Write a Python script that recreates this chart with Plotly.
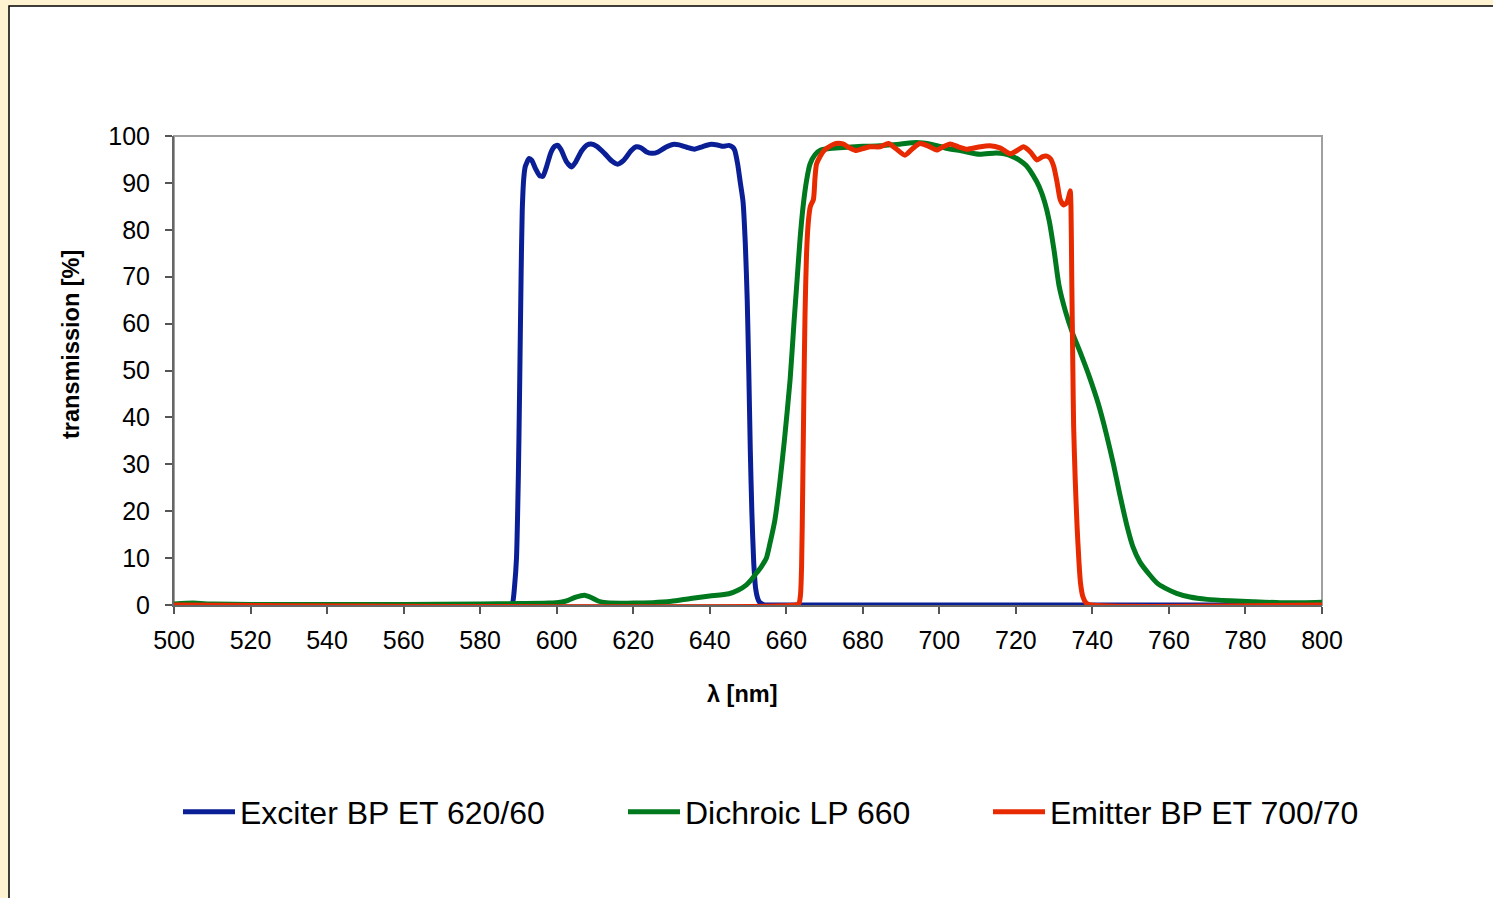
import plotly.graph_objects as go

# ---------------- data ----------------
exciter_name = "Exciter BP ET 620/60"
exciter_wl = [500, 585, 588, 588.5, 589, 589.5, 590, 590.3, 590.7, 591, 591.4, 591.8, 592.8, 593.5,
              594.5, 595.5, 596.4, 597.3, 598.5, 599.5, 600.3, 601.2, 602.5, 603.9, 605, 606.5,
              608, 609, 610.5, 612.5, 614.5, 615.9, 617.5, 619.5, 620.8, 622, 623.5, 625, 626.5,
              628.5, 630.4, 632, 634, 636, 638, 640, 642, 643.5, 645, 646, 646.5, 647.3, 648,
              648.7, 649.3, 649.8, 650.2, 650.6, 651, 651.5, 652, 652.5, 653, 654, 655, 800]
exciter_t = [0, 0, 0, 0.5, 4, 10, 28, 45, 70, 84, 91, 93.5, 95.2, 94.8,
             93, 91.6, 91.4, 93.3, 96.5, 97.8, 98, 97, 94.6, 93.4, 94.5, 96.8,
             98.1, 98.3, 97.8, 96.3, 94.6, 94, 94.8, 96.9, 97.7, 97.5, 96.6, 96.3, 96.6,
             97.6, 98.2, 98.1, 97.6, 97.2, 97.7, 98.2, 98.1, 97.8, 98, 97.6, 97, 94, 90,
             86, 77, 65, 50, 33, 20, 9, 3.5, 1.5, 0.6, 0.1, 0, 0]

dichroic_name = "Dichroic LP 660"
dichroic_wl = [500, 505, 510, 520, 540, 560, 580, 590, 598, 601, 603, 605, 607.3, 609, 611, 613,
               620, 625, 630, 635, 640, 645, 647.5, 649.6, 651, 652.2, 653.5, 654.8, 655.7, 657,
               658.3, 659.5, 661, 662, 662.8, 663.6, 664.4, 665.3, 666.2, 667.5, 669, 672, 676,
               680, 684.5, 690, 694, 698, 701.8, 706, 710.5, 714.8, 717, 719.2, 721, 722.7,
               724.5, 726.1, 727.5, 728.7, 730, 731.3, 733, 734.8, 737, 739.2, 741.5, 743.6,
               745.5, 747.1, 749, 750.6, 752.4, 755, 757, 759, 762, 765.5, 770, 776, 782, 789,
               795, 800]
dichroic_t = [0.2, 0.4, 0.2, 0.1, 0.1, 0.1, 0.2, 0.3, 0.4, 0.6, 1.0, 1.7, 2.1, 1.6, 0.8, 0.5,
              0.4, 0.5, 0.8, 1.4, 1.9, 2.4, 3.2, 4.3, 5.5, 6.8, 8.2, 10, 13, 18,
              26, 35, 48, 60, 69, 78, 85, 90.5, 94, 96, 97, 97.4, 97.6,
              97.8, 97.9, 98.3, 98.6, 98.2, 97.4, 96.8, 96.1, 96.4, 96.2, 95.6, 94.8, 93.7,
              91.6, 89.2, 86, 82, 75.5, 68, 62.5, 58, 53.5, 48.7, 43, 36.6,
              30, 23.8, 17, 12.4, 9.2, 6.4, 4.6, 3.6, 2.5, 1.7, 1.2, 0.9, 0.7, 0.5,
              0.5, 0.6]

emitter_name = "Emitter BP ET 700/70"
emitter_wl = [500, 662.5, 663.3, 663.7, 664, 664.3, 664.6, 664.9, 665.3, 665.8, 666.3, 667.1,
              667.5, 667.9, 668.8, 670, 671.8, 673, 674.8, 676.5, 678.3, 680, 681.8, 684.5,
              686.7, 688.5, 691, 693, 694.9, 697, 699.3, 701, 702.8, 705, 707.2, 710, 713.2,
              716, 718.5, 720.3, 722, 723.8, 725.5, 727, 728.1, 729, 729.9, 730.8, 731.6,
              732.5, 733.3, 733.8, 734.2, 734.4, 734.6, 734.9, 735.1, 735.5, 736, 736.5,
              736.9, 737.5, 738.3, 739.5, 800]
emitter_t = [0, 0, 0.3, 2, 8, 25, 45, 62, 75, 82, 85, 86.5,
             91, 94, 95.6, 97, 98, 98.4, 98.3, 97.5, 96.9, 97.3, 97.7, 97.7,
             98.4, 97.4, 95.9, 97.3, 98.4, 97.9, 97, 97.7, 98.3, 97.7, 97.2, 97.6, 97.9,
             97.4, 96.2, 96.9, 97.7, 96.6, 94.9, 95.6, 95.7, 95.2, 93.5, 90, 86.4,
             85.3, 85.8, 87, 88.3, 85, 70, 50, 38, 27, 16.7, 9,
             4.6, 1.8, 0.5, 0, 0]

x_ticks = list(range(500, 801, 20))
y_ticks = list(range(0, 101, 10))
x_title = "<b>λ [nm]</b>"
y_title = "<b>transmission [%]</b>"

colors = ["#0A1F96", "#00781E", "#E82A00"]

# ---------------- layout geometry ----------------
W, H = 1493, 898
L, R, T, B = 174, 1322, 136, 605   # plot area in pixels


def px2x(px):
    return (px - L) / (R - L)


def py2y(py):
    return (B - py) / (B - T)


FONT = "Liberation Sans, Arial, sans-serif"

fig = go.Figure()
series = [(exciter_name, exciter_wl, exciter_t, "legend"),
          (dichroic_name, dichroic_wl, dichroic_t, "legend2"),
          (emitter_name, emitter_wl, emitter_t, "legend3")]
for (name, xs, ys, lg), c in zip(series, colors):
    fig.add_trace(go.Scatter(x=xs, y=ys, mode="lines", name=name, legend=lg,
                             line=dict(color=c, width=5, shape="spline", smoothing=0.6),
                             hoverinfo="skip"))

legend_common = dict(orientation="h", yanchor="middle", xanchor="left",
                     y=py2y(812), font=dict(family=FONT, size=32, color="#000000"),
                     itemwidth=52, bgcolor="rgba(0,0,0,0)", borderwidth=0)

tick_font = dict(family=FONT, size=25, color="#000000")
title_font = dict(family=FONT, size=23.5, color="#000000")

fig.update_layout(
    width=W, height=H,
    margin=dict(l=L, r=W - R, t=T, b=H - B, autoexpand=False),
    paper_bgcolor="#FFF3D1",
    plot_bgcolor="rgba(0,0,0,0)",
    showlegend=True,
    legend=dict(x=px2x(178), **legend_common),
    legend2=dict(x=px2x(623), **legend_common),
    legend3=dict(x=px2x(988), **legend_common),
    xaxis=dict(range=[500, 800], tickvals=x_ticks, ticktext=[str(v) for v in x_ticks],
               ticks="outside", ticklen=7, tickwidth=1.5, tickcolor="#555555",
               showline=True, linecolor="#666666", linewidth=2, showgrid=False,
               zeroline=False, layer="below traces", ticklabelstandoff=5,
               tickfont=tick_font),
    yaxis=dict(range=[0, 100], tickvals=y_ticks, ticktext=[str(v) for v in y_ticks],
               ticks="outside", ticklen=7, tickwidth=1.5, tickcolor="#555555",
               showline=True, linecolor="#666666", linewidth=2, showgrid=False,
               zeroline=False, layer="below traces", ticklabelstandoff=10,
               tickfont=tick_font),
    annotations=[
        dict(text=x_title, xref="paper", yref="paper", x=px2x(742), y=py2y(694),
             xanchor="center", yanchor="middle", showarrow=False, font=title_font),
        dict(text=y_title, xref="paper", yref="paper", x=px2x(71), y=py2y(345),
             xanchor="center", yanchor="middle", showarrow=False, textangle=-90,
             font=title_font),
    ],
    shapes=[
        # white chart frame
        dict(type="rect", xref="paper", yref="paper", layer="below",
             x0=px2x(9), x1=px2x(1510), y0=py2y(915), y1=py2y(6),
             fillcolor="#FFFFFF", line=dict(color="#000000", width=1.5)),
        # plot area border
        dict(type="rect", xref="paper", yref="paper", layer="below",
             x0=0, x1=1, y0=0, y1=1,
             fillcolor="rgba(0,0,0,0)", line=dict(color="#A0A0A0", width=2)),
    ],
)

fig.write_html("out.html")
